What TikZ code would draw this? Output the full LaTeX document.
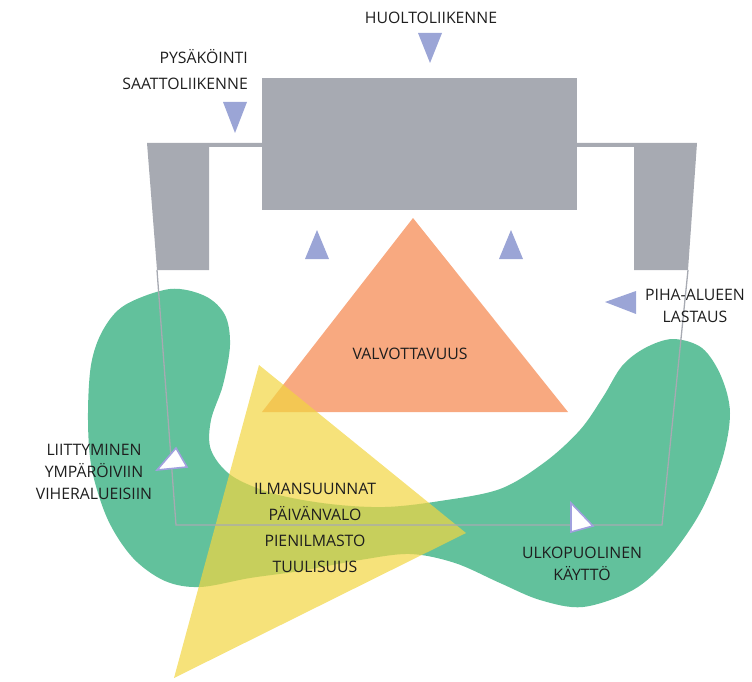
\documentclass[tikz,border=0pt]{standalone}
\usepackage{fontspec}
\setmainfont{Open Sans}
\definecolor{bldg}{RGB}{167,170,178}
\definecolor{bluetri}{RGB}{155,165,214}
\definecolor{lav}{RGB}{160,160,222}
\definecolor{grn}{RGB}{98,193,156}
\definecolor{org}{RGB}{248,169,128}
\definecolor{yel}{RGB}{242,213,65}
\definecolor{txt}{RGB}{30,30,30}
\begin{document}
\begin{tikzpicture}[x=1pt,y=-1pt,
  lbl/.style={text=txt,font=\fontsize{15.8}{22}\selectfont,inner sep=0pt,align=center},
  lblwide/.style={lbl,font=\fontsize{15.8}{26}\selectfont},
  bluemark/.style={fill=bluetri},
  whitemark/.style={fill=white,draw=lav,line width=1.6pt,line join=miter},
  outline/.style={draw=bldg,line width=1.3pt}]
\useasboundingbox (0,0) rectangle (752,682);
% green area
\fill[grn] plot[smooth cycle,tension=0.55] coordinates {
(170,289) (205,296) (225,315) (230,345) (223,385) (211,420) (211,450) (232,476)
(275,494) (330,504) (385,507) (440,501) (500,489) (545,462) (580,430) (603,397)
(622,366) (645,348) (673,339) (702,348) (721,376) (730,413) (722,460) (700,513)
(667,560) (633,590) (583,607) (540,600) (500,583) (455,563) (410,554) (360,560)
(300,571) (250,578) (200,587) (165,581) (133,558) (108,520) (92,470) (88,420)
(91,365) (103,330) (125,305)};
% orange triangle
\fill[org] (413,218) -- (568,412) -- (262,412) -- cycle;
% yellow triangle
\fill[yel,opacity=0.7] (259,365) -- (466,533) -- (174,678) -- cycle;
% plot outline
\draw[outline] (157,270) -- (176,525) -- (662,525) -- (688,270);
% building
\fill[bldg] (262,78) rectangle (577,210);
\fill[bldg] (147,143) -- (262,143) -- (262,147) -- (209,147) -- (209,270) -- (157,270) -- cycle;
\fill[bldg] (697,143) -- (577,143) -- (577,147) -- (634,147) -- (634,270) -- (688,270) -- cycle;
% blue markers
\fill[bluemark] (418,33) -- (442,33) -- (430,63) -- cycle;
\fill[bluemark] (223,102) -- (247,102) -- (235,133) -- cycle;
\fill[bluemark] (305,259) -- (329,259) -- (317,230) -- cycle;
\fill[bluemark] (499,259) -- (523,259) -- (511,230) -- cycle;
\fill[bluemark] (605,302) -- (636,291) -- (636,314) -- cycle;
% white markers
\draw[whitemark] (176,448) -- (187,467) -- (157,470) -- cycle;
\draw[whitemark] (571,503) -- (593,526) -- (571,532) -- cycle;
% labels
\node[lbl] (huolto) at (431,18) {HUOLTOLIIKENNE};
\node[lblwide,anchor=east,align=right] (pysak) at (248,69.5) {PYSÄKÖINTI\\SAATTOLIIKENNE};
\node[lbl] (piha) at (695,306) {PIHA-ALUEEN\\LASTAUS};
\node[lbl] (valvo) at (410,354) {VALVOTTAVUUS};
\node[lbl] (liitt) at (94,472) {LIITTYMINEN\\YMPÄRÖIVIIN\\VIHERALUEISIIN};
\node[lblwide] (ilma) at (315,527.5) {ILMANSUUNNAT\\PÄIVÄNVALO\\PIENILMASTO\\TUULISUUS};
\node[lbl] (ulko) at (582,564) {ULKOPUOLINEN\\KÄYTTÖ};
\end{tikzpicture}
\end{document}
